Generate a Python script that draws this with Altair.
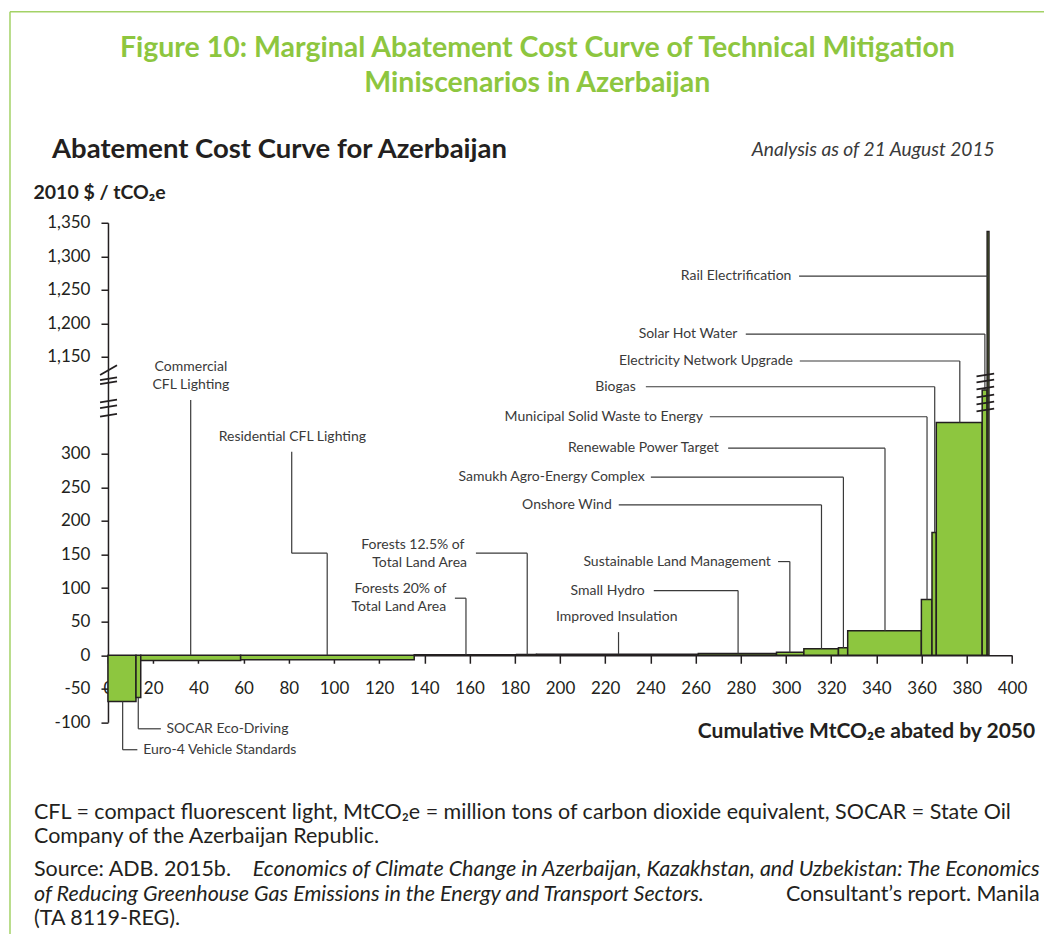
import altair as alt
import pandas as pd

# ---------------- data ----------------
projects = [
    "Euro-4 Vehicle Standards", "SOCAR Eco-Driving", "Commercial CFL Lighting",
    "Residential CFL Lighting", "Forests 20% of Total Land Area",
    "Forests 12.5% of Total Land Area", "Improved Insulation", "Small Hydro",
    "Sustainable Land Management", "Onshore Wind", "Samukh Agro-Energy Complex",
    "Renewable Power Target", "Municipal Solid Waste to Energy", "Biogas",
    "Electricity Network Upgrade", "Solar Hot Water", "Rail Electrification",
]
abatement = [12.4, 2.1, 44.2, 76.8, 45.3, 8.8, 71.6, 34.6, 12.1, 15.3, 4.1,
             32.6, 4.7, 1.9, 20.3, 2.2, 0.8]          # MtCO2e abated
cost = [-69, -63, -8, -7, 0.5, 1, 1.5, 2.5, 4.5, 9.5, 11, 36.5, 83, 183,
        347, 830, 1337]                                 # 2010 $ / tCO2e

x_ticks = list(range(0, 401, 20))
y_ticks = [-100, -50, 0, 50, 100, 150, 200, 250, 300, 1150, 1200, 1250, 1300, 1350]

# annotation labels: text, x (MtCO2e), y ($/t), alignment
label_text = ["Commercial", "CFL Lighting", "Residential CFL Lighting",
              "Forests 12.5% of", "Total Land Area", "Forests 20% of", "Total Land Area",
              "Improved Insulation", "Small Hydro", "Sustainable Land Management",
              "Onshore Wind", "Samukh Agro-Energy Complex", "Renewable Power Target",
              "Municipal Solid Waste to Energy", "Biogas", "Electricity Network Upgrade",
              "Solar Hot Water", "Rail Electrification", "SOCAR Eco-Driving",
              "Euro-4 Vehicle Standards"]
label_x = [36.7, 36.7, 81.6, 134.9, 137.9, 129.4, 128.7, 225.1, 237.5, 293.3,
           222.9, 237.5, 270.3, 263.3, 233.5, 303.1, 278.5, 302.4, 25.9, 15.6]
label_y = [1135.7, 924.5, 325.3, 164.4, 138.0, 98.4, 71.5, 57.1, 96.3, 139.5,
           224.0, 265.3, 308.5, 360.0, 885.9, 1143.9, 1184.1, 1270.6, -109.8, -141.0]
label_align = ["center"] * 8 + ["right"] * 10 + ["left"] * 2

# leader lines (polylines in data units)
leaders = [
    [(36.6, 652.9), (36.6, 0)],
    [(81.3, 303.4), (81.3, 152), (97.0, 152), (97.0, 0)],
    [(162.8, 152), (185.5, 152), (185.5, 1)],
    [(153.5, 84.9), (158.4, 84.9), (158.4, 0.5)],
    [(225.9, 34.3), (225.9, 1.5)],
    [(241.5, 96.3), (278.8, 96.3), (278.8, 2.5)],
    [(296.5, 139.5), (301.7, 139.5), (301.7, 4.5)],
    [(226.0, 224.0), (315.7, 224.0), (315.7, 9.5)],
    [(240.2, 265.3), (325.4, 265.3), (325.4, 11)],
    [(274.4, 308.5), (343.8, 308.5), (343.8, 36.5)],
    [(266.3, 360.0), (362.4, 360.0), (362.4, 83)],
    [(238.0, 885.9), (365.8, 885.9), (365.8, 183)],
    [(306.1, 1143.9), (376.9, 1143.9), (376.9, 347)],
    [(282.2, 1184.1), (388.0, 1184.1), (388.0, 830)],
    [(305.8, 1270.6), (389.4, 1270.6)],
    [(13.4, -63), (13.4, -109.8), (23.4, -109.8)],
    [(6.5, -69), (6.5, -141), (13.0, -141)],
]

# axis-break slashes: (x from, x to, y centre)
breaks_left = [(-3.5, 4.0, v) for v in [1113.7, 1026.1, 956.0, 635.4, 535.5, 384.8]]
breaks_right = [(384.3, 392.1, v) for v in [1091.0, 985.8, 863.2, 723.0, 600.3, 477.7]]

# ---------------- styling ----------------
GREEN = "#8dc63f"
DARK = "#231f20"
GREY = "#3a3a3a"
FONT = "Lato"
W, H = 904.3, 499.6

xs = alt.Scale(domain=[0, 400], nice=False, zero=False)
ys = alt.Scale(domain=[-100, 355, 1126, 1350], range=[H, 194.3, 150.3, 0],
               nice=False, zero=False)

xaxis = alt.Axis(values=x_ticks, format="d", offset=-67, tickSize=8, tickWidth=1.5,
                 tickColor=DARK, domainColor=DARK, domainWidth=1.5, grid=False,
                 labelFont=FONT, labelFontSize=17, labelColor=DARK, labelPadding=17,
                 labelFlush=False, labelOverlap=False, zindex=0,
                 title="Cumulative MtCO₂e abated by 2050", titleFont=FONT,
                 titleFontSize=21, titleFontWeight="bold", titleColor=DARK,
                 titleAlign="right", titleX=927, titleY=82, titleBaseline="alphabetic")
yaxis = alt.Axis(values=y_ticks,
                 labelExpr="datum.value < 0 ? '-' + format(-datum.value, ',d') : format(datum.value, ',d')",
                 tickSize=7, tickWidth=1.5, tickColor=DARK, domainColor=DARK,
                 domainWidth=1.5, grid=False, labelFont=FONT, labelFontSize=17,
                 labelColor=DARK, labelPadding=11, labelFlush=False, labelOverlap=False,
                 zindex=0, title="2010 $ / tCO₂e", titleFont=FONT, titleFontSize=19.5,
                 titleFontWeight="bold", titleColor=DARK, titleAngle=0,
                 titleAlign="left", titleX=-75, titleY=-24, titleBaseline="alphabetic")

# ---------------- tables ----------------
bars_df = pd.DataFrame({"project": projects, "abatement": abatement, "cost": cost,
                        "order": list(range(len(projects)))})
labels_df = pd.DataFrame({"text": label_text, "x": label_x, "y": label_y,
                          "align": label_align})
seg_rows = []
for line in leaders:
    for (xa, ya), (xb, yb) in zip(line[:-1], line[1:]):
        seg_rows.append({"x": xa, "y": ya, "x2": xb, "y2": yb})
seg_df = pd.DataFrame(seg_rows)
brk_df = pd.DataFrame([{"x": a, "x2": b, "y": v - 24, "y2": v + 24}
                       for a, b, v in breaks_left + breaks_right])

# ---------------- layers ----------------
bars = alt.Chart(bars_df).transform_window(
    x_end="sum(abatement)", sort=[alt.SortField("order")], frame=[None, 0]
).transform_calculate(
    x_start="datum.x_end - datum.abatement", zero="0"
).mark_rect(fill=GREEN, stroke=DARK, strokeWidth=1.5).encode(
    x=alt.X("x_start:Q", scale=xs, axis=xaxis),
    x2="x_end:Q",
    y=alt.Y("zero:Q", scale=ys, axis=yaxis),
    y2="cost:Q",
    tooltip=["project:N", "abatement:Q", "cost:Q"],
)

segments = alt.Chart(seg_df).mark_rule(color=GREY, strokeWidth=1.2).encode(
    x=alt.X("x:Q", scale=xs, axis=xaxis), x2="x2:Q",
    y=alt.Y("y:Q", scale=ys, axis=yaxis), y2="y2:Q")

breaks = alt.Chart(brk_df).mark_rule(color=DARK, strokeWidth=1.8).encode(
    x=alt.X("x:Q", scale=xs, axis=xaxis), x2="x2:Q",
    y=alt.Y("y:Q", scale=ys, axis=yaxis), y2="y2:Q")

label_layers = []
for al in ["center", "right", "left"]:
    label_layers.append(
        alt.Chart(labels_df).transform_filter(alt.datum.align == al)
        .mark_text(font=FONT, fontSize=14, color=GREY, align=al, baseline="middle")
        .encode(x=alt.X("x:Q", scale=xs, axis=xaxis),
                y=alt.Y("y:Q", scale=ys, axis=yaxis), text="text:N"))


def free_text(txt, x, y, size, weight="normal", style="normal", color=DARK,
              align="left"):
    return alt.Chart(pd.DataFrame({"t": [txt]})).mark_text(
        font=FONT, fontSize=size, fontWeight=weight, fontStyle=style, color=color,
        align=align, baseline="alphabetic").encode(
        x=alt.value(x), y=alt.value(y), text="t:N")


FN = 21.5
texts = [
    free_text("Figure 10: Marginal Abatement Cost Curve of Technical Mitigation",
              429.5, -166.2, 28.5, "bold", color=GREEN, align="center"),
    free_text("Miniscenarios in Azerbaijan", 429.5, -131.2, 28.5, "bold",
              color=GREEN, align="center"),
    free_text("Abatement Cost Curve for Azerbaijan", -56, -65.2, 27.5, "bold"),
    free_text("Analysis as of 21 August 2015", 887, -67.2, 19.2, style="italic",
              color=GREY, align="right"),
    free_text("CFL = compact fluorescent light, MtCO₂e = million tons of carbon dioxide "
              "equivalent, SOCAR = State Oil", -74, 596.3, FN),
    free_text("Company of the Azerbaijan Republic.", -74, 620.8, FN),
    free_text("Source: ADB. 2015b.", -74, 653.8, FN),
    free_text("Economics of Climate Change in Azerbaijan, Kazakhstan, and Uzbekistan: "
              "The Economics", 932, 653.8, FN, style="italic", align="right"),
    free_text("of Reducing Greenhouse Gas Emissions in the Energy and Transport Sectors.",
              -74, 678.3, FN, style="italic"),
    free_text("Consultant’s report. Manila", 932, 678.3, FN, align="right"),
    free_text("(TA 8119-REG).", -74, 702.8, FN),
]

frame_df = pd.DataFrame({"k": [0]})
frame_left = alt.Chart(frame_df).mark_rule(color="#a3d266", strokeWidth=1.5).encode(
    x=alt.value(-98), y=alt.value(-211), y2=alt.value(720))
frame_top = alt.Chart(frame_df).mark_rule(color="#a3d266", strokeWidth=1.5).encode(
    x=alt.value(-98), x2=alt.value(940), y=alt.value(-211))

chart = alt.layer(frame_left, frame_top, bars, segments, breaks, *label_layers,
                  *texts).properties(
    width=W, height=H,
    autosize=alt.AutoSizeParams(type="none"),
    padding={"left": 100, "top": 214.7, "right": 32, "bottom": 212},
    background="white",
).configure_view(stroke=None)

chart.save("out.html", embed_options={"renderer": "svg", "actions": False})
